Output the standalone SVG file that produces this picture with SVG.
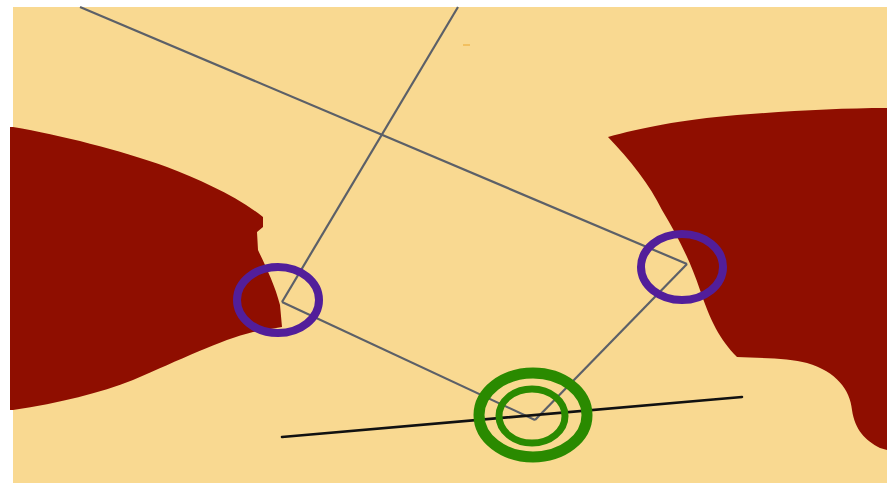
<svg xmlns="http://www.w3.org/2000/svg" width="890" height="483" viewBox="0 0 890 483">
<style>
.bg{fill:#F9D991}
.red{fill:#8F0E00}
.gray{stroke:#5C6068;stroke-width:2.2;fill:none}
.blk{stroke:#111;stroke-width:2.6;fill:none;stroke-linecap:round}
.pur{stroke:#521E9A;stroke-width:8;fill:none}
.grn{stroke:#2A8A00;fill:none}
</style>
<rect width="890" height="483" fill="#fff"/>
<rect class="bg" x="13" y="7" width="874" height="476"/>
<g id="left-region">
<path class="red" d="M10,127 L13,127 C60,135 120,150 167,167 C200,180 235,195 263,217 L263,227 L257,232 L258,250 C265,265 275,285 280,305 L282,327 L253,332 C220,340 180,360 133,380 C100,393 60,403 13,410 L10,410 Z"/>
</g>
<g id="right-region">
<path class="red" d="M608,137 C640,128 680,120 737,115 C790,111 840,108 887,108 L887,450 L880,448 C865,440 855,430 852,410 C850,390 837,372 807,363 C790,358 760,358 737,357 C720,340 710,320 700,290 C690,260 677,235 662,210 C650,185 630,160 608,137 Z"/>
</g>
<rect x="463" y="44" width="7" height="2" fill="#F2C060"/>
<g id="connectors">
<line class="gray" x1="80" y1="7" x2="687" y2="264"/>
<line class="gray" x1="458" y1="7" x2="282" y2="302"/>
<line class="gray" x1="282" y1="302" x2="535" y2="420"/>
<line class="gray" x1="687" y1="264" x2="535" y2="420"/>
<line class="blk" x1="282" y1="437" x2="742" y2="397"/>
</g>
<g id="left-marker">
<ellipse class="pur" cx="278" cy="300" rx="41" ry="33"/>
</g>
<g id="right-marker">
<ellipse class="pur" cx="682" cy="267" rx="41" ry="33"/>
</g>
<g id="center-marker">
<ellipse class="grn" stroke-width="11" cx="533" cy="415" rx="54" ry="42"/>
<ellipse class="grn" stroke-width="7" cx="532" cy="416" rx="33" ry="27"/>
</g>
</svg>
